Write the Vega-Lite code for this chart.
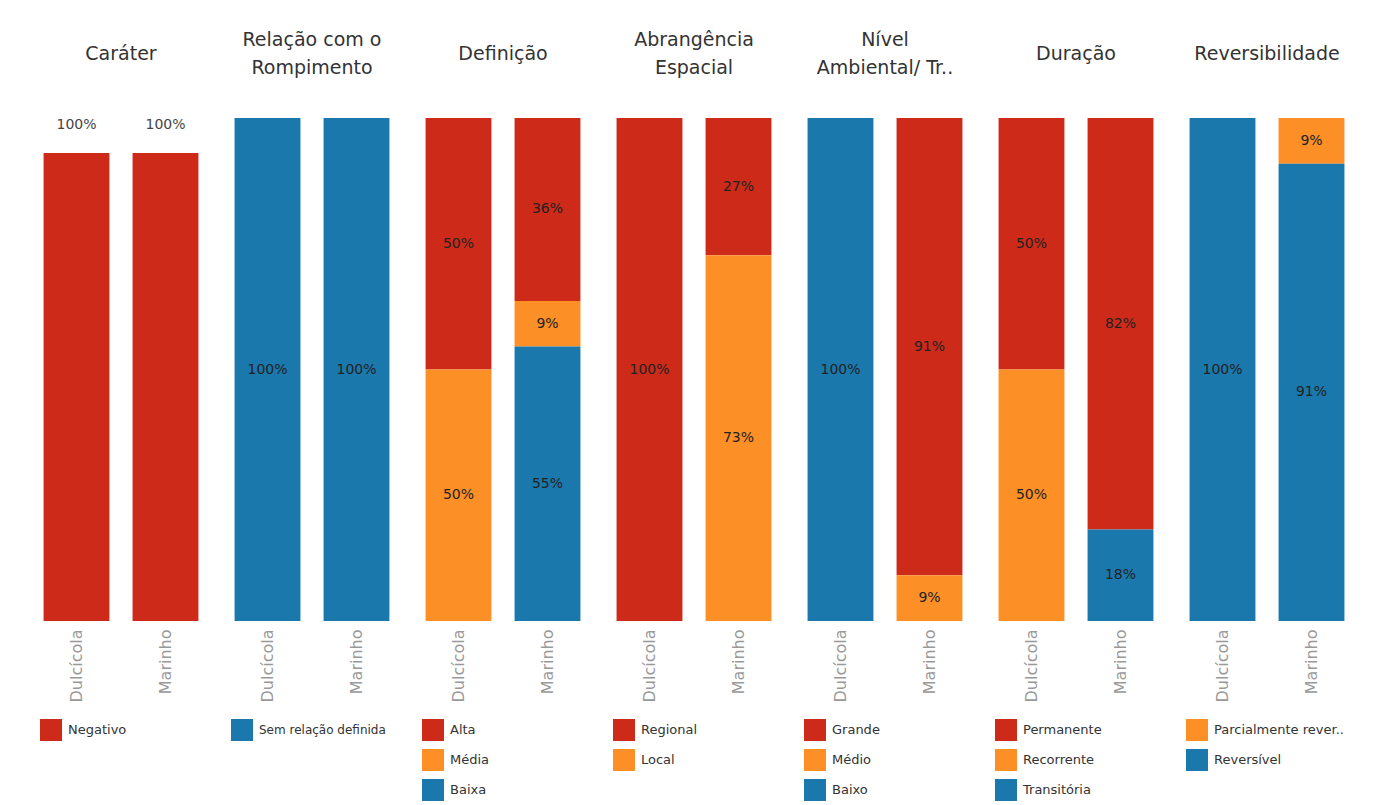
{
  "$schema": "https://vega.github.io/schema/vega-lite/v6.json",
  "background": "white",
  "padding": {"left": 32, "top": 31, "right": 0, "bottom": 0},
  "spacing": 13,
  "data": {
    "values": [
      {"painel": "Caráter", "ambiente": "Dulcícola", "categoria": "Negativo", "ordem": 1, "valor": 1},
      {"painel": "Caráter", "ambiente": "Marinho", "categoria": "Negativo", "ordem": 1, "valor": 1},
      {"painel": "Relação", "ambiente": "Dulcícola", "categoria": "Sem relação definida", "ordem": 1, "valor": 1},
      {"painel": "Relação", "ambiente": "Marinho", "categoria": "Sem relação definida", "ordem": 1, "valor": 1},
      {"painel": "Definição", "ambiente": "Dulcícola", "categoria": "Alta", "ordem": 1, "valor": 0.5},
      {"painel": "Definição", "ambiente": "Dulcícola", "categoria": "Média", "ordem": 2, "valor": 0.5},
      {"painel": "Definição", "ambiente": "Marinho", "categoria": "Alta", "ordem": 1, "valor": 0.3636},
      {"painel": "Definição", "ambiente": "Marinho", "categoria": "Média", "ordem": 2, "valor": 0.0909},
      {"painel": "Definição", "ambiente": "Marinho", "categoria": "Baixa", "ordem": 3, "valor": 0.5455},
      {"painel": "Abrangência", "ambiente": "Dulcícola", "categoria": "Regional", "ordem": 1, "valor": 1},
      {"painel": "Abrangência", "ambiente": "Marinho", "categoria": "Regional", "ordem": 1, "valor": 0.2727},
      {"painel": "Abrangência", "ambiente": "Marinho", "categoria": "Local", "ordem": 2, "valor": 0.7273},
      {"painel": "Nível", "ambiente": "Dulcícola", "categoria": "Baixo", "ordem": 3, "valor": 1},
      {"painel": "Nível", "ambiente": "Marinho", "categoria": "Grande", "ordem": 1, "valor": 0.9091},
      {"painel": "Nível", "ambiente": "Marinho", "categoria": "Médio", "ordem": 2, "valor": 0.0909},
      {"painel": "Duração", "ambiente": "Dulcícola", "categoria": "Permanente", "ordem": 1, "valor": 0.5},
      {"painel": "Duração", "ambiente": "Dulcícola", "categoria": "Recorrente", "ordem": 2, "valor": 0.5},
      {"painel": "Duração", "ambiente": "Marinho", "categoria": "Permanente", "ordem": 1, "valor": 0.8182},
      {"painel": "Duração", "ambiente": "Marinho", "categoria": "Transitória", "ordem": 3, "valor": 0.1818},
      {"painel": "Reversibilidade", "ambiente": "Dulcícola", "categoria": "Reversível", "ordem": 2, "valor": 1},
      {"painel": "Reversibilidade", "ambiente": "Marinho", "categoria": "Parcialmente rever..", "ordem": 1, "valor": 0.0909},
      {"painel": "Reversibilidade", "ambiente": "Marinho", "categoria": "Reversível", "ordem": 2, "valor": 0.9091}
    ]
  },
  "hconcat": [
    {
      "title": {"text": "Caráter", "offset": 54},
      "width": 178, "height": 503,
      "transform": [{"filter": "datum.painel === 'Caráter'"}],
      "encoding": {
        "x": {"field": "ambiente", "type": "nominal", "scale": {"paddingInner": 0.26, "paddingOuter": 0.13}},
        "y": {"field": "valor", "type": "quantitative", "stack": "zero", "scale": {"domain": [0, 1.075], "nice": false}, "axis": null},
        "order": {"field": "ordem", "sort": "descending"}
      },
      "layer": [
        {"mark": {"type": "bar"}, "encoding": {"color": {"field": "categoria", "type": "nominal", "scale": {"domain": ["Negativo"], "range": ["#cd2a1a"]}}}},
        {"mark": {"type": "text", "dy": -28, "baseline": "middle", "color": "#444"}, "encoding": {"text": {"field": "valor", "type": "quantitative", "format": ".0%"}}}
      ]
    },
    {
      "title": {"text": ["Relação com o", "Rompimento"], "offset": 40},
      "width": 178, "height": 503,
      "transform": [{"filter": "datum.painel === 'Relação'"}],
      "encoding": {
        "x": {"field": "ambiente", "type": "nominal", "scale": {"paddingInner": 0.26, "paddingOuter": 0.13}},
        "y": {"field": "valor", "type": "quantitative", "stack": "zero", "scale": {"domain": [0, 1], "nice": false}, "axis": null},
        "order": {"field": "ordem", "sort": "descending"}
      },
      "layer": [
        {"mark": {"type": "bar"}, "encoding": {"color": {"field": "categoria", "type": "nominal", "scale": {"domain": ["Sem relação definida"], "range": ["#1a78ac"]}, "legend": {"labelFontSize": 12}}}},
        {"mark": {"type": "text", "baseline": "middle"}, "encoding": {"y": {"field": "valor", "type": "quantitative", "stack": "zero", "bandPosition": 0.5}, "detail": {"field": "categoria"}, "text": {"field": "valor", "type": "quantitative", "format": ".0%"}}}
      ]
    },
    {
      "title": {"text": "Definição", "offset": 54},
      "width": 178, "height": 503,
      "transform": [{"filter": "datum.painel === 'Definição'"}],
      "encoding": {
        "x": {"field": "ambiente", "type": "nominal", "scale": {"paddingInner": 0.26, "paddingOuter": 0.13}},
        "y": {"field": "valor", "type": "quantitative", "stack": "zero", "scale": {"domain": [0, 1], "nice": false}, "axis": null},
        "order": {"field": "ordem", "sort": "descending"}
      },
      "layer": [
        {"mark": {"type": "bar"}, "encoding": {"color": {"field": "categoria", "type": "nominal", "scale": {"domain": ["Alta", "Média", "Baixa"], "range": ["#cd2a1a", "#fd8f27", "#1a78ac"]}}}},
        {"mark": {"type": "text", "baseline": "middle"}, "encoding": {"y": {"field": "valor", "type": "quantitative", "stack": "zero", "bandPosition": 0.5}, "detail": {"field": "categoria"}, "text": {"field": "valor", "type": "quantitative", "format": ".0%"}}}
      ]
    },
    {
      "title": {"text": ["Abrangência", "Espacial"], "offset": 40},
      "width": 178, "height": 503,
      "transform": [{"filter": "datum.painel === 'Abrangência'"}],
      "encoding": {
        "x": {"field": "ambiente", "type": "nominal", "scale": {"paddingInner": 0.26, "paddingOuter": 0.13}},
        "y": {"field": "valor", "type": "quantitative", "stack": "zero", "scale": {"domain": [0, 1], "nice": false}, "axis": null},
        "order": {"field": "ordem", "sort": "descending"}
      },
      "layer": [
        {"mark": {"type": "bar"}, "encoding": {"color": {"field": "categoria", "type": "nominal", "scale": {"domain": ["Regional", "Local"], "range": ["#cd2a1a", "#fd8f27"]}}}},
        {"mark": {"type": "text", "baseline": "middle"}, "encoding": {"y": {"field": "valor", "type": "quantitative", "stack": "zero", "bandPosition": 0.5}, "detail": {"field": "categoria"}, "text": {"field": "valor", "type": "quantitative", "format": ".0%"}}}
      ]
    },
    {
      "title": {"text": ["Nível", "Ambiental/ Tr.."], "offset": 40},
      "width": 178, "height": 503,
      "transform": [{"filter": "datum.painel === 'Nível'"}],
      "encoding": {
        "x": {"field": "ambiente", "type": "nominal", "scale": {"paddingInner": 0.26, "paddingOuter": 0.13}},
        "y": {"field": "valor", "type": "quantitative", "stack": "zero", "scale": {"domain": [0, 1], "nice": false}, "axis": null},
        "order": {"field": "ordem", "sort": "descending"}
      },
      "layer": [
        {"mark": {"type": "bar"}, "encoding": {"color": {"field": "categoria", "type": "nominal", "scale": {"domain": ["Grande", "Médio", "Baixo"], "range": ["#cd2a1a", "#fd8f27", "#1a78ac"]}}}},
        {"mark": {"type": "text", "baseline": "middle"}, "encoding": {"y": {"field": "valor", "type": "quantitative", "stack": "zero", "bandPosition": 0.5}, "detail": {"field": "categoria"}, "text": {"field": "valor", "type": "quantitative", "format": ".0%"}}}
      ]
    },
    {
      "title": {"text": "Duração", "offset": 54},
      "width": 178, "height": 503,
      "transform": [{"filter": "datum.painel === 'Duração'"}],
      "encoding": {
        "x": {"field": "ambiente", "type": "nominal", "scale": {"paddingInner": 0.26, "paddingOuter": 0.13}},
        "y": {"field": "valor", "type": "quantitative", "stack": "zero", "scale": {"domain": [0, 1], "nice": false}, "axis": null},
        "order": {"field": "ordem", "sort": "descending"}
      },
      "layer": [
        {"mark": {"type": "bar"}, "encoding": {"color": {"field": "categoria", "type": "nominal", "scale": {"domain": ["Permanente", "Recorrente", "Transitória"], "range": ["#cd2a1a", "#fd8f27", "#1a78ac"]}}}},
        {"mark": {"type": "text", "baseline": "middle"}, "encoding": {"y": {"field": "valor", "type": "quantitative", "stack": "zero", "bandPosition": 0.5}, "detail": {"field": "categoria"}, "text": {"field": "valor", "type": "quantitative", "format": ".0%"}}}
      ]
    },
    {
      "title": {"text": "Reversibilidade", "offset": 54},
      "width": 178, "height": 503,
      "transform": [{"filter": "datum.painel === 'Reversibilidade'"}],
      "encoding": {
        "x": {"field": "ambiente", "type": "nominal", "scale": {"paddingInner": 0.26, "paddingOuter": 0.13}},
        "y": {"field": "valor", "type": "quantitative", "stack": "zero", "scale": {"domain": [0, 1], "nice": false}, "axis": null},
        "order": {"field": "ordem", "sort": "descending"}
      },
      "layer": [
        {"mark": {"type": "bar"}, "encoding": {"color": {"field": "categoria", "type": "nominal", "scale": {"domain": ["Parcialmente rever..", "Reversível"], "range": ["#fd8f27", "#1a78ac"]}}}},
        {"mark": {"type": "text", "baseline": "middle"}, "encoding": {"y": {"field": "valor", "type": "quantitative", "stack": "zero", "bandPosition": 0.5}, "detail": {"field": "categoria"}, "text": {"field": "valor", "type": "quantitative", "format": ".0%"}}}
      ]
    }
  ],
  "resolve": {"scale": {"color": "independent", "y": "independent", "x": "independent"}},
  "config": {
    "font": "DejaVu Sans",
    "view": {"stroke": null},
    "title": {"fontSize": 19, "fontWeight": "normal", "color": "#333", "lineHeight": 28, "anchor": "middle", "font": "DejaVu Sans"},
    "axisX": {"labelAngle": 270, "labelFontSize": 16, "labelColor": "#999", "ticks": false, "domain": false, "title": null, "labelPadding": 8, "grid": false},
    "legend": {"orient": "bottom", "direction": "vertical", "symbolType": "square", "symbolSize": 484, "labelFontSize": 13, "labelColor": "#333", "title": null, "rowPadding": 8, "offset": 9, "padding": 8, "symbolStrokeWidth": 0, "symbolOpacity": 1, "labelOffset": 6, "labelLimit": 160},
    "text": {"fontSize": 14, "font": "DejaVu Sans", "color": "#222"}
  }
}
